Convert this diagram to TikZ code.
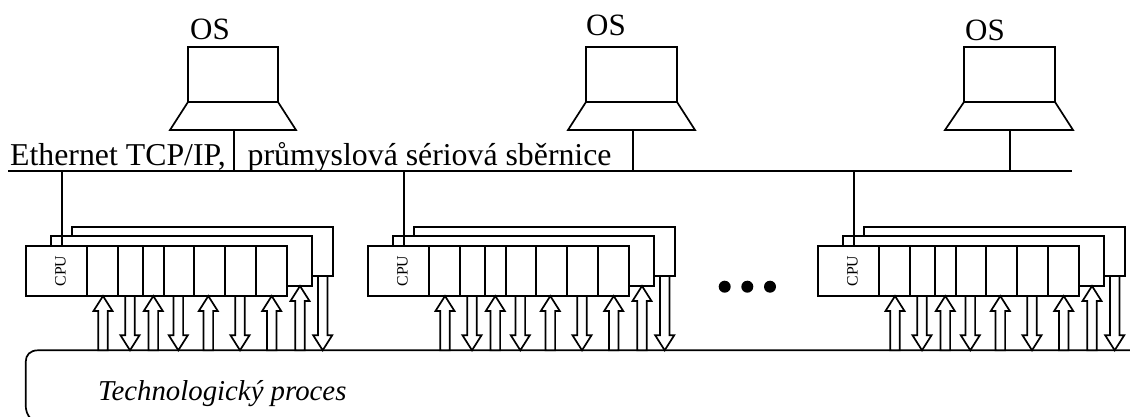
\documentclass[tikz,border=0pt]{standalone}
\usepackage{fontspec}
\setmainfont{Liberation Serif}
\tikzset{
  x=1pt,y=-1pt,
  thin line/.style={line width=1.7pt,draw=black,line join=miter},
  stem/.style={line width=2pt,draw=black},
  busline/.style={line width=2.2pt,draw=black},
  module/.style={thin line,fill=white,rectangle,inner sep=0pt,outer sep=0pt},
  ostext/.style={font=\fontsize{31}{34}\selectfont,inner sep=0pt,anchor=base west},
  bustext/.style={font=\fontsize{31.8}{35}\selectfont,inner sep=0pt,anchor=base west},
  iotip/.style={thin line,fill=white},
}
\newcommand\upar[3]{% x, top, bottom
  \draw[iotip] (#1,#2) -- (#1+9.5,#2+15) -- (#1+4.8,#2+15) -- (#1+4.8,#3) -- (#1-4.8,#3) -- (#1-4.8,#2+15) -- (#1-9.5,#2+15) -- cycle;}
\newcommand\dnar[3]{% x, top, bottom
  \draw[iotip] (#1,#3) -- (#1+9.5,#3-15) -- (#1+4.8,#3-15) -- (#1+4.8,#2) -- (#1-4.8,#2) -- (#1-4.8,#3-15) -- (#1-9.5,#3-15) -- cycle;}
% station: name, screen left, screen right, base left, base right, stem x
\newcommand\station[6]{%
  \node[module,minimum width=#3-#2,minimum height=55] (#1-screen) at ({(#2+#3)/2},74.5) {};
  \draw[thin line] (#1-screen.south west) -- (#4,130) -- (#5,130) -- (#1-screen.south east);
  \coordinate (#1-foot) at (#6,130);
  \draw[stem] (#1-foot) -- (#1-foot |- busL);}
% PLC rack: name, x offset
\newcommand\rack[2]{%
  \begin{scope}[xshift=#2pt]
    \node[module,minimum width=261,minimum height=49.5] (#1-third) at (202.2,251.5) {};
    \node[module,minimum width=261,minimum height=50] (#1-second) at (181.5,261) {};
    \node[module,minimum width=261,minimum height=50] (#1-main) at (156.2,271) {};
    \node[module,draw=none,fill=none,rotate=90,font=\fontsize{15.8}{17}\selectfont] (#1-cpu) at (60.5,271) {CPU};
    \foreach \d in {87,117.7,143.3,163.7,194.3,225,255.7}
      \draw[thin line] (\d,246) -- (\d,296);
    \coordinate (#1-drop) at (62,246);
    \upar{103}{296}{350.3}
    \upar{153.3}{296}{350.3}
    \upar{208.3}{296}{350.3}
    \upar{271.7}{296}{350.3}
    \upar{300}{286}{350.3}
    \dnar{130}{296}{350.3}
    \dnar{178.3}{296}{350.3}
    \dnar{240}{296}{350.3}
    \dnar{322.7}{276}{350.3}
  \end{scope}
  \draw[stem] (#1-drop) -- (#1-drop |- busL);}
\begin{document}
\begin{tikzpicture}
  \useasboundingbox (0,0) rectangle (1130,417);
  \fill[white] (0,0) rectangle (1130,417);
  \coordinate (busL) at (8,171);
  \coordinate (busR) at (1072,171);
  % process
  \begin{scope}
    \clip (0,0) rectangle (1130,417);
    \draw[thin line] (1132,350.3) -- (38,350.3) .. controls (30,350.3) and (25.7,355) .. (25.7,362) -- (25.7,405) .. controls (25.7,410) and (27,415) .. (31,419);
  \end{scope}
  \rack{plcA}{0}
  \rack{plcB}{342}
  \rack{plcC}{792}
  \station{osA}{188}{278}{170}{296}{234}
  \station{osB}{586}{677}{568}{695}{633}
  \station{osC}{964}{1055}{945}{1073}{1010}
  \draw[busline] (busL) -- (busR);
  \node[ostext] (labA) at (190,40) {OS};
  \node[ostext] (labB) at (586,36) {OS};
  \node[ostext] (labC) at (965,40.7) {OS};
  \node[bustext] (bus-label) at (10,165) {Ethernet TCP/IP,\hspace{22pt}průmyslová sériová sběrnice};
  \node[ostext,font=\fontsize{28.8}{32}\selectfont\itshape] (proc) at (98,400) {Technologický proces};
  \foreach \n/\x in {d1/724.7,d2/747.3,d3/770}
    \fill (\x,286.7) circle (6);
\end{tikzpicture}
\end{document}
